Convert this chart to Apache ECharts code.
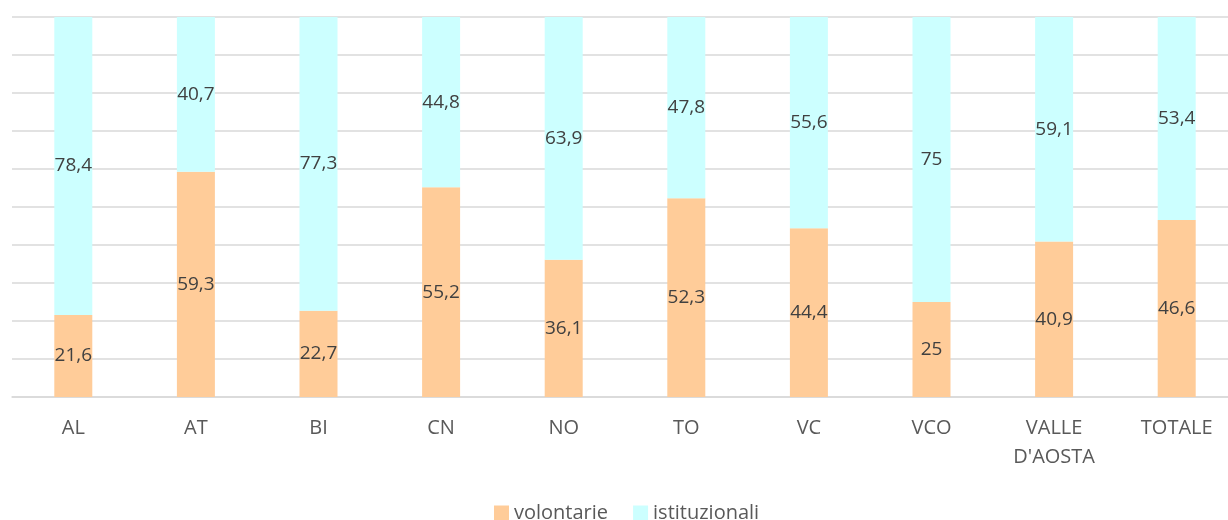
<!DOCTYPE html>
<html>
<head>
    <meta charset="utf-8">
    <title>ECharts</title>
    <script src="https://cdn.jsdelivr.net/npm/echarts@6/dist/echarts.min.js"></script>
</head>
<body style="margin:0;background:#fff;overflow:hidden;">
    <div id="main" style="width:1240px;height:520px;"></div>
    <script type="text/javascript">
        var categories = ['AL', 'AT', 'BI', 'CN', 'NO', 'TO', 'VC', 'VCO', 'VALLE\nD\'AOSTA', 'TOTALE'];
        var volontarie = [21.6, 59.3, 22.7, 55.2, 36.1, 52.3, 44.4, 25, 40.9, 46.6];
        var istituzionali = [78.4, 40.7, 77.3, 44.8, 63.9, 47.8, 55.6, 75, 59.1, 53.4];

        var myChart = echarts.init(document.getElementById('main'));
        var font = '"Open Sans", "Noto Sans", sans-serif';

        function fmt(p) {
            return String(p.value).replace('.', ',');
        }

        var labelStyle = {
            show: true,
            position: 'inside',
            color: '#404040',
            fontSize: 19,
            fontFamily: font,
            formatter: fmt
        };

        option = {
            animation: false,
            grid: { left: 12, top: 17, width: 1226, height: 380 },
            legend: {
                top: 498,
                left: 489,
                itemWidth: 15,
                itemHeight: 15,
                itemGap: 25,
                icon: 'rect',
                textStyle: { color: '#595959', fontSize: 20, fontFamily: font },
                data: ['volontarie', 'istituzionali']
            },
            xAxis: {
                type: 'category',
                data: categories,
                axisLine: { show: true, lineStyle: { color: '#d9d9d9', width: 1.5 } },
                axisTick: { show: false },
                axisLabel: {
                    color: '#595959',
                    fontSize: 20,
                    fontFamily: font,
                    lineHeight: 29,
                    margin: 17,
                    interval: 0
                }
            },
            yAxis: {
                type: 'value',
                min: 0,
                max: 100,
                interval: 10,
                axisLabel: { show: false },
                axisLine: { show: false },
                axisTick: { show: false },
                splitLine: { lineStyle: { color: '#d9d9d9', width: 1.5 } }
            },
            series: [{
                name: 'volontarie',
                type: 'bar',
                stack: 'tot',
                barWidth: 38,
                data: volontarie,
                itemStyle: { color: '#ffcc99' },
                label: labelStyle
            }, {
                name: 'istituzionali',
                type: 'bar',
                stack: 'tot',
                barWidth: 38,
                data: istituzionali,
                itemStyle: { color: '#ccffff' },
                label: labelStyle
            }]
        };

        myChart.setOption(option);
    </script>
</body>
</html>
